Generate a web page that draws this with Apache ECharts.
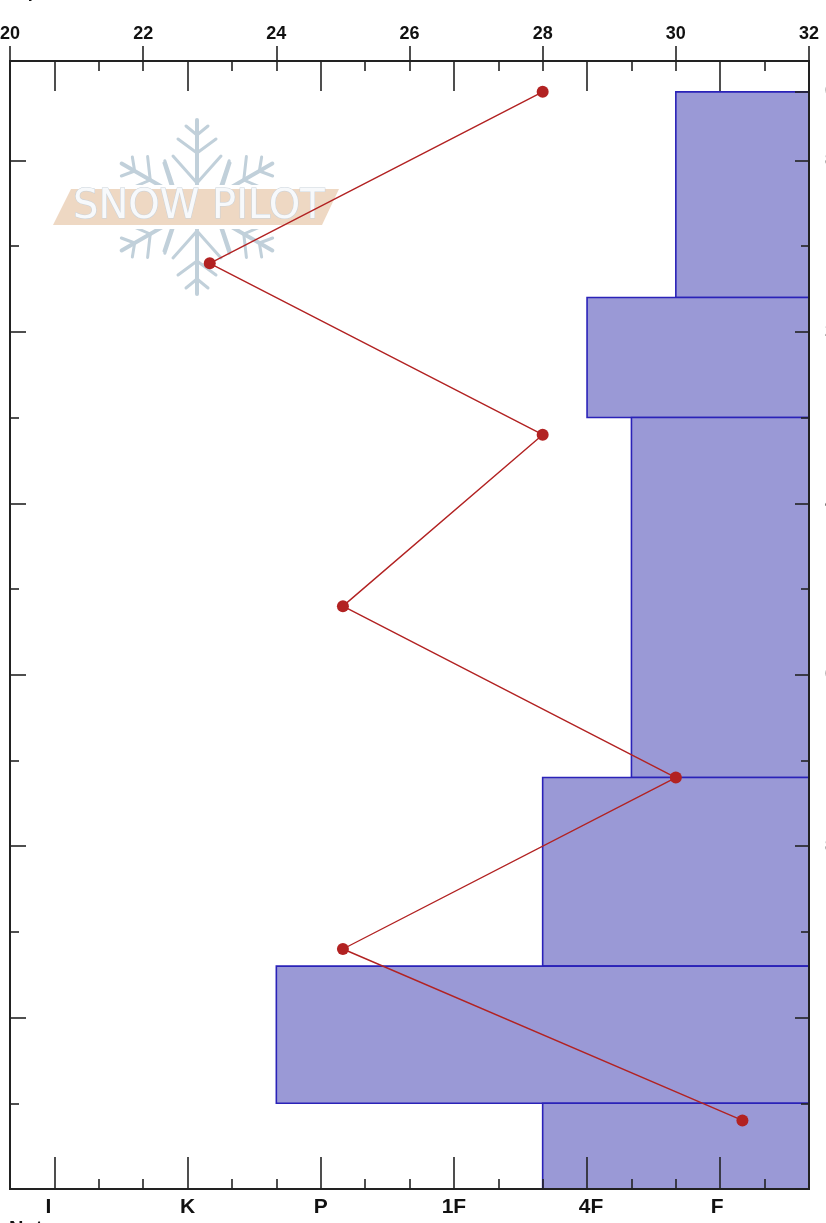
<!DOCTYPE html>
<html><head><meta charset="utf-8">
<style>html,body{margin:0;padding:0;background:#fff}#c{width:826px;height:1223px}</style>
<script src="https://cdn.jsdelivr.net/npm/echarts@6/dist/echarts.min.js"></script>
</head><body><div id="c"></div>
<script>
// Temperature profile
const tempValues = [28, 23, 28, 25, 30, 25, 31];
const tempHeights = [128, 108, 88, 68, 48, 28, 8];
// Snow layers (height top, height bottom, hand hardness on its scale)
const layerTops = [128, 104, 90, 48, 26, 10];
const layerBottoms = [104, 90, 48, 26, 10, 0];
const layerHardness = [3, 5, 4, 6, 12, 6];
// Hand hardness axis
const hardnessMajor = [2, 5, 8, 11, 14, 17];
const hardnessMinor = [1, 3, 4, 6, 7, 9, 10, 12, 13, 15, 16];
const hardnessLabels = {2: 'F', 5: '4F', 8: '1F', 11: 'P', 14: 'K', 17: 'I'};
// Height axes
const heightMajorLeft = [20, 40, 60, 80, 100, 120];
const heightMinor = [10, 30, 50, 70, 90, 110];
const heightMajorRight = [0, 20, 40, 60, 80, 100, 120, 128];
const depthLabels = {128: '0', 120: '8', 100: '28', 80: '48', 60: '68', 40: '88', 20: '108', 0: '128'};

const ink = '#222';
const labelFont = {color: '#111', fontFamily: 'Liberation Sans', fontWeight: 'bold', fontSize: 21};
const lineW = {show: true, onZero: false, lineStyle: {color: ink, width: 2}};
const hAxis = (pos, vals, len, labels) => ({
  type: 'value', position: pos, min: 0, max: 18, inverse: true, z: 8,
  splitLine: {show: false}, axisLine: lineW,
  axisTick: {show: true, inside: true, length: len, customValues: vals, lineStyle: {color: ink, width: 1.6}},
  axisLabel: labels ? {show: true, customValues: vals, margin: 8, ...labelFont,
    rich: {
      plain: {...labelFont},
      left6: {...labelFont, padding: [0, 12, 0, 0]},
      left3: {...labelFont, padding: [0, 6, 0, 0]},
      right4: {...labelFont, padding: [0, 0, 0, 8]}
    },
    formatter: v => {
      const t = hardnessLabels[v] || '';
      const key = t === 'I' ? 'left6' : t === 'F' ? 'left3' : t === '4F' ? 'right4' : 'plain';
      return t ? '{' + key + '|' + t + '}' : '';
    }} : {show: false}
});
const yAxisOf = (pos, vals, len, labels) => ({
  type: 'value', position: pos, min: 0, max: 131.6, z: 8,
  splitLine: {show: false}, axisLine: lineW,
  axisTick: {show: true, inside: true, length: len, customValues: vals, lineStyle: {color: ink, width: 1.6}},
  axisLabel: labels ? {show: true, customValues: vals, margin: 16, color: '#555', align: 'left',
    fontFamily: 'Liberation Sans', fontWeight: 'bold', fontSize: 16,
    formatter: v => depthLabels[v] ?? ''} : {show: false}
});

// Watermark decoration
const flake = '#c1d0da';
const seg = (a, b, w) => ({type: 'line', z: 1, silent: true,
  shape: {x1: a[0], y1: a[1], x2: b[0], y2: b[1]}, style: {stroke: flake, lineWidth: w || 3, lineCap: 'round'}});
const arm = deg => ({type: 'group', x: 197, y: 207, rotation: deg * Math.PI / 180, z: 1, children: [
  seg([0, -22], [0, -87], 4),
  seg([0, -24], [-24, -51]), seg([0, -24], [24, -51]),
  seg([0, -54], [-19, -68]), seg([0, -54], [19, -68]),
  seg([0, -72], [-11, -81]), seg([0, -72], [11, -81])
]});
const dash = (a, b) => seg(a, b, 3);
const watermark = [
  arm(0), arm(60), arm(120), arm(180), arm(240), arm(300),
  dash([164, 163], [171, 185]), dash([230, 163], [223, 185]),
  dash([171, 230], [164, 251]), dash([223, 230], [230, 251]),
  {type: 'rect', z: 2, silent: true, shape: {x: 88, y: 185, width: 218, height: 44}, style: {fill: '#fff'}},
  {type: 'polygon', z: 3, silent: true, shape: {points: [[71, 189], [339, 189], [322, 225], [53, 225]]}, style: {fill: '#eed8c3'}},
  {type: 'text', z: 4, silent: true, x: 73, y: 188, style: {text: 'SNOW PILOT', fill: '#f7f9fb', stroke: '#c9d2da', lineWidth: 1,
    font: '40px "DejaVu Sans"'}},
  {type: 'text', x: -8, y: -16.5, style: {text: 'Temperature', fill: '#111', font: 'bold 18px "Liberation Sans"'}},
  {type: 'text', x: 9, y: 1219, style: {text: 'Notes', fill: '#111', font: 'bold 20px "Liberation Sans"'}}
];

const chart = echarts.init(document.getElementById('c'), null, {renderer: 'canvas'});
chart.setOption({
  animation: false,
  backgroundColor: '#fff',
  grid: {left: 10, top: 61, width: 799, height: 1128, containLabel: false, outerBoundsMode: 'none'},
  graphic: {elements: watermark},
  xAxis: [
    hAxis('bottom', hardnessMajor, 32, true),
    hAxis('bottom', hardnessMinor, 10, false),
    hAxis('top', hardnessMajor, 30, false),
    hAxis('top', hardnessMinor.concat(18), 10, false),
    {
      type: 'value', position: 'top', min: 20, max: 32, interval: 2, z: 8,
      splitLine: {show: false}, axisLine: lineW,
      axisTick: {show: true, inside: false, length: 15, lineStyle: {color: ink, width: 1.6}},
      axisLabel: {show: true, margin: 18, color: '#111', fontFamily: 'Liberation Sans', fontWeight: 'bold', fontSize: 18, showMinLabel: true, showMaxLabel: true}
    }
  ],
  yAxis: [
    yAxisOf('left', heightMajorLeft, 16, false),
    yAxisOf('left', heightMinor, 9, false),
    yAxisOf('right', heightMajorRight, 14, true),
    yAxisOf('right', heightMinor, 8, false)
  ],
  series: [
    {
      type: 'custom', xAxisIndex: 0, yAxisIndex: 0, z: 3, clip: true, silent: true,
      data: layerHardness.map((h, i) => [h, layerTops[i], layerBottoms[i]]),
      encode: {x: 0, y: [1, 2]},
      renderItem: (params, api) => {
        const a = api.coord([api.value(0), api.value(1)]);
        const b = api.coord([0, api.value(2)]);
        return {type: 'rect', shape: {x: a[0], y: a[1], width: b[0] - a[0], height: b[1] - a[1]},
          style: {fill: '#9a99d6', stroke: '#2a22b8', lineWidth: 1.6}};
      }
    },
    {
      type: 'line', xAxisIndex: 4, yAxisIndex: 0, z: 12, silent: true,
      data: tempValues.map((t, i) => [t, tempHeights[i]]),
      symbol: 'circle', symbolSize: 12,
      lineStyle: {color: '#b22222', width: 1.4},
      itemStyle: {color: '#b22222'}
    }
  ]
});
</script></body></html>
